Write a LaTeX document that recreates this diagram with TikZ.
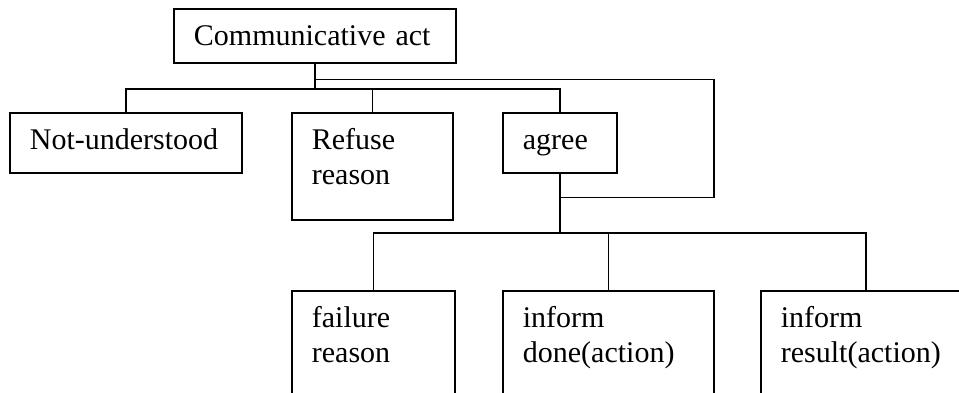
\documentclass[tikz,border=0pt]{standalone}
\usepackage{fontspec}
\setmainfont{Liberation Serif}
\usepackage{tikz}
\usetikzlibrary{calc}

\begin{document}
\begin{tikzpicture}[x=1pt, y=1pt,
    box/.style={draw, line width=1.8pt, anchor=north west, inner xsep=20pt, inner ysep=0pt,
      align=left, text height=37pt, font=\fontsize{30}{35}\selectfont},
    link/.style={line width=1.7pt},
    loopline/.style={line width=1.4pt}]
    \useasboundingbox (0,0) rectangle (959,-393);

    % 上層
    \node[box, text width=242pt, text depth=17pt] (comm) at (173,-8) {Communicative act};

    % 中層
    \node[box, text width=192pt, text depth=23pt] (notund) at (9,-112) {Not-understood};
    \node[box, text width=121pt, text depth=70pt] (refuse) at (291,-112) {Refuse\\reason};
    \node[box, text width=74pt, text depth=23pt] (agree) at (502,-112) {agree};

    % 下層
    \node[box, text width=123pt, text depth=70pt] (failure) at (291,-290) {failure\\reason};
    \node[box, text width=171pt, text depth=70pt] (done) at (502,-290) {inform\\done(action)};
    \node[box, text width=170pt, text depth=70pt] (result) at (760,-290) {inform\\result(action)};

    % 上層連線
    \draw[link] (comm.south) -- ++(0,-25) coordinate (hub);
    \draw[link] (notund.north) |- (hub) -| (agree.north);
    \draw[link] (refuse.north) -- (refuse.north |- hub);

    % 迴路
    \coordinate (loopin) at ($(comm.south)+(0,-16)$);
    \coordinate (loopout) at ($(agree.south)+(0,-24)$);
    \draw[loopline] (loopin) -- ++(399,0) |- (loopout);

    % 下層連線
    \draw[link] (agree.south) -- ++(0,-59) coordinate (hub2);
    \draw[link] (failure.north) |- (hub2) -| (result.north);
    \draw[link] (done.north) -- (done.north |- hub2);
\end{tikzpicture}
\end{document}
